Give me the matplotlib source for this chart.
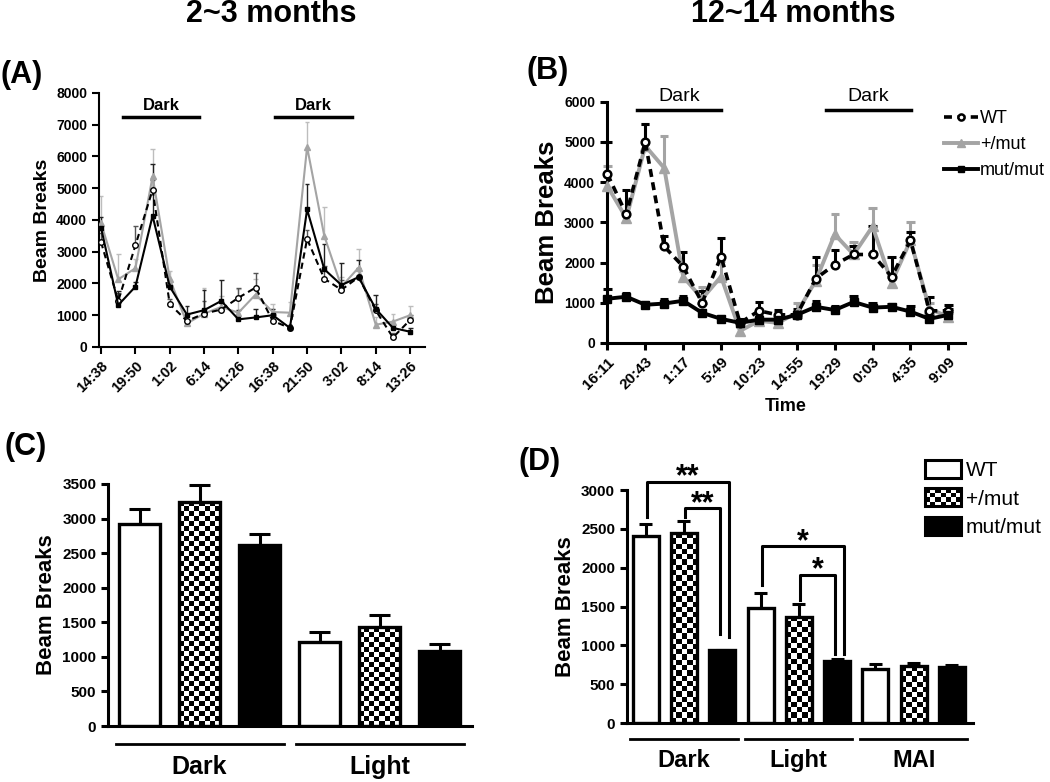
import numpy as np
import matplotlib
matplotlib.use("Agg")
import matplotlib.pyplot as plt
from matplotlib.lines import Line2D
from matplotlib.patches import Rectangle
from matplotlib.legend_handler import HandlerBase

plt.rcParams["font.family"] = ["Liberation Sans", "DejaVu Sans"]
plt.rcParams["font.weight"] = "bold"

GRAY = "#a4a4a4"
LGRAY = "#bdbdbd"

# ----------------- Panel A data (2~3 months) -----------------
a_ticks = ["14:38", "19:50", "1:02", "6:14", "11:26", "16:38", "21:50", "3:02", "8:14", "13:26"]
a_wt = [3300, 1450, 3200, 4950, 1350, 820, 1050, 1180, 1550, 1870, 820, 600, 3400, 2150, 1800, 2200, 1150, 300, 850]
a_het = [3900, 2130, 2480, 5370, 2150, 740, 1050, 1260, 1080, 1650, 1100, 1080, 6300, 3500, 1900, 2500, 700, 800, 1000]
a_mut = [3750, 1320, 1900, 4130, 1900, 1020, 1160, 1450, 870, 930, 1000, 600, 4330, 2450, 1950, 2200, 1200, 600, 480]
a_wt_err = [300, 250, 600, 300, 150, 150, 400, 250, 300, 450, 200, 100, 300, 400, 300, 300, 200, 150, 150]
a_het_err = [850, 800, 300, 880, 250, 200, 800, 350, 750, 500, 250, 350, 800, 900, 300, 600, 250, 250, 300]
a_mut_err = [350, 450, 150, 1620, 200, 280, 650, 650, 300, 270, 200, 100, 800, 800, 700, 550, 450, 100, 120]

# ----------------- Panel B data (12~14 months) -----------------
b_ticks = ["16:11", "20:43", "1:17", "5:49", "10:23", "14:55", "19:29", "0:03", "4:35", "9:09"]
b_wt = [4200, 3200, 5000, 2400, 1900, 1000, 2150, 500, 800, 700, 700, 1600, 1950, 2200, 2200, 1650, 2550, 800, 800]
b_het = [3900, 3100, 4900, 4350, 1650, 1100, 1650, 300, 550, 500, 750, 1550, 2700, 2200, 2900, 1500, 2550, 850, 650]
b_mut = [1100, 1150, 950, 980, 1050, 750, 600, 500, 580, 580, 700, 900, 820, 1020, 880, 900, 780, 600, 700]
b_wt_err = [800, 600, 450, 250, 350, 300, 450, 100, 230, 120, 150, 550, 350, 200, 700, 500, 200, 350, 150]
b_het_err = [500, 150, 550, 800, 150, 300, 400, 100, 100, 100, 250, 400, 500, 300, 450, 150, 470, 150, 100]
b_mut_err = [250, 100, 80, 120, 120, 80, 80, 80, 100, 100, 80, 150, 100, 150, 120, 80, 130, 100, 150]

# ----------------- Panel C / D data -----------------
groups = ["WT", "+/mut", "mut/mut"]
c_periods = ["Dark", "Light"]
c_means = [[2917, 3245, 2613], [1220, 1427, 1085]]
c_errs = [[217, 241, 164], [140, 178, 105]]

d_periods = ["Dark", "Light", "MAI"]
d_means = [[2406, 2441, 937], [1483, 1367, 799], [700, 730, 722]]
d_errs = [[155, 163, 8], [193, 159, 22], [65, 44, 26]]

# significance brackets in D: (bar i, bar j, top, left foot, right foot, label)
sig_i = [0, 1, 3, 4]
sig_j = [2, 2, 5, 5]
sig_top = [3107, 2763, 2278, 1912]
sig_left = [2656, 2656, 1775, 1581]
sig_right = [1110, 1150, 894, 894]
sig_lab = ["**", "**", "*", "*"]
sig_dx = [0.18, -0.05, 0.18, -0.05]

fig = plt.figure(figsize=(10.5, 7.82), dpi=100)


def up_err(ax, x, y, e, cap, color, lw, z=3):
    x = np.asarray(x, float)
    y = np.asarray(y, float)
    e = np.asarray(e, float)
    ax.vlines(x, y, y + e, color=color, lw=lw, zorder=z, clip_on=False)
    ax.hlines(y + e, x - cap, x + cap, color=color, lw=lw, zorder=z, clip_on=False)


def checker_fill(ax, x0, x1, y0, y1, cell=5.0):
    p0 = ax.transData.transform((x0, y0))
    p1 = ax.transData.transform((x1, y1))
    nx = max(1, int(round(abs(p1[0] - p0[0]) / cell)))
    ny = max(1, int(round(abs(p1[1] - p0[1]) / cell)))
    board = np.add.outer(np.arange(ny), np.arange(nx)) % 2
    ax.imshow(board, cmap="gray", extent=(x0, x1, y0, y1), aspect="auto",
              interpolation="nearest", origin="lower", zorder=1)


class CheckerKey:
    pass


class CheckerHandler(HandlerBase):
    def create_artists(self, legend, orig_handle, xd, yd, width, height, fontsize, trans):
        arts = [Rectangle((-xd, -yd), width, height, fc="white", ec="none", transform=trans)]
        nx, ny = 7, 4
        cw, ch = width / nx, height / ny
        for i in range(nx):
            for j in range(ny):
                if (i + j) % 2:
                    arts.append(Rectangle((-xd + i * cw, -yd + j * ch), cw, ch,
                                          fc="black", ec="none", transform=trans))
        arts.append(Rectangle((-xd, -yd), width, height, fc="none", ec="black",
                              lw=2.2, transform=trans))
        return arts


def style_axes(ax, lw):
    for s in ["top", "right"]:
        ax.spines[s].set_visible(False)
    for s in ["left", "bottom"]:
        ax.spines[s].set_linewidth(lw)
    ax.tick_params(width=lw, length=5, direction="out")


# ----------------- (A) -----------------
axA = fig.add_axes([0.0943, 0.5563, 0.3105, 0.3248])
style_axes(axA, 1.5)
xa = np.arange(len(a_wt))
up_err(axA, xa, a_het, a_het_err, 0.14, LGRAY, 1.0, 2)
up_err(axA, xa, a_wt, a_wt_err, 0.14, "#555555", 1.0, 2)
up_err(axA, xa, a_mut, a_mut_err, 0.14, "#222222", 1.0, 2)
axA.plot(xa, a_het, color=GRAY, lw=1.5, marker="^", ms=4, mfc=GRAY, mec=GRAY, zorder=4)
axA.plot(xa, a_wt, color="black", lw=1.5, ls=(0, (3, 2)), marker="o", ms=4, mfc="white", mec="black", zorder=5)
axA.plot(xa, a_mut, color="black", lw=1.5, marker="s", ms=3.5, zorder=6)
axA.set_xlim(-0.12, 18.87)
axA.set_ylim(0, 8000)
axA.set_yticks(np.arange(0, 8001, 1000))
axA.set_xticks(xa[::2])
axA.set_xticklabels(a_ticks, rotation=45, ha="right", rotation_mode="anchor", fontsize=10.5)
axA.tick_params(axis="y", labelsize=10)
axA.set_ylabel("Beam Breaks", fontsize=14, fontweight="bold", labelpad=4)
for x0, x1 in [(1.28, 5.71), (10.13, 14.62)]:
    axA.plot([x0, x1], [7244, 7244], color="black", lw=2.5, clip_on=False)
    axA.text((x0 + x1) / 2, 7600, "Dark", ha="center", va="center", fontsize=12)

# ----------------- (B) -----------------
axB = fig.add_axes([0.5781, 0.5614, 0.3410, 0.3086])
style_axes(axB, 2.2)
xb = np.arange(len(b_wt))
up_err(axB, xb, b_het, b_het_err, 0.22, GRAY, 2.2, 2)
up_err(axB, xb, b_wt, b_wt_err, 0.22, "black", 2.2, 2)
up_err(axB, xb, b_mut, b_mut_err, 0.22, "black", 2.2, 2)
kw_wt = dict(color="black", lw=2.6, ls=(0, (2.2, 1.5)), marker="o", ms=5.5, mfc="white", mec="black", mew=1.8)
kw_het = dict(color=GRAY, lw=2.8, marker="^", ms=7, mfc=GRAY, mec=GRAY)
kw_mut = dict(color="black", lw=2.8, marker="s", ms=6, mfc="black", mec="black")
axB.plot(xb, b_het, zorder=4, clip_on=False, **kw_het)
axB.plot(xb, b_wt, zorder=5, clip_on=False, **kw_wt)
axB.plot(xb, b_mut, zorder=6, clip_on=False, **kw_mut)
axB.set_xlim(-0.02, 18.88)
axB.set_ylim(0, 6000)
axB.set_yticks(np.arange(0, 6001, 1000))
axB.set_xticks(xb[::2])
axB.set_xticklabels(b_ticks, rotation=45, ha="right", rotation_mode="anchor", fontsize=11)
axB.tick_params(axis="y", labelsize=10)
axB.set_ylabel("Beam Breaks", fontsize=18.5, fontweight="bold", labelpad=4)
axB.set_xlabel("Time", fontsize=13, fontweight="bold", labelpad=4)
for x0, x1 in [(1.58, 6.01), (11.55, 16.03)]:
    axB.plot([x0, x1], [5794, 5794], color="black", lw=2.5, clip_on=False)
    axB.text((x0 + x1) / 2, 6130, "Dark", ha="center", va="center", fontsize=14, fontweight="normal")
legB = axB.legend(handles=[Line2D([], [], **kw_wt), Line2D([], [], **kw_het), Line2D([], [], **kw_mut)],
                  labels=["WT", "+/mut", "mut/mut"], loc="upper left",
                  bbox_to_anchor=(944 / 1050, 1 - 110 / 782), bbox_transform=fig.transFigure,
                  frameon=False, handlelength=1.9, handletextpad=0.1, labelspacing=0.5,
                  borderpad=0, borderaxespad=0, prop={"size": 13, "weight": "normal"},
                  markerscale=0.8)


# ----------------- bar helper -----------------
def bar_panel(ax, means, errs, periods, ylim, step, cell, cap, lab_fs, line_y, text_y, span):
    ax.set_xlim(*span)
    ax.set_ylim(0, ylim)
    pos = 0
    for g, (m, e) in enumerate(zip(means, errs)):
        xs = np.arange(pos, pos + 3)
        up_err(ax, xs, m, e, cap, "black", 2.2, 1)
        for k in range(3):
            x = xs[k]
            if k == 1:
                checker_fill(ax, x - 0.34, x + 0.34, 0, m[k], cell)
                ax.bar(x, m[k], 0.68, color="none", edgecolor="black", lw=2.4, zorder=2)
            else:
                ax.bar(x, m[k], 0.68, color="white" if k == 0 else "black",
                       edgecolor="black", lw=2.4, zorder=2)
        tr = ax.get_xaxis_transform()
        ax.plot([pos - 0.4, pos + 2.4], [line_y, line_y], color="black", lw=2.0,
                transform=tr, clip_on=False)
        ax.text(pos + 1, text_y, periods[g], transform=tr, ha="center", va="center",
                fontsize=lab_fs)
        pos += 3
    ax.set_xlim(*span)
    ax.set_ylim(0, ylim)
    ax.set_yticks(np.arange(0, ylim + 1, step))
    ax.set_xticks([])
    ax.tick_params(axis="y", labelsize=11)
    ax.set_ylabel("Beam Breaks", fontsize=16, fontweight="bold", labelpad=4)


# ----------------- (C) -----------------
axC = fig.add_axes([0.1029, 0.0716, 0.3467, 0.3095])
style_axes(axC, 2.2)
bar_panel(axC, c_means, c_errs, c_periods, 3500, 500, 5.0, 0.17, 18, -0.074, -0.17, (-0.525, 5.54))

# ----------------- (D) -----------------
axD = fig.add_axes([0.5971, 0.0754, 0.3295, 0.2980])
style_axes(axD, 2.2)
bar_panel(axD, d_means, d_errs, d_periods, 3000, 500, 5.2, 0.17, 17, -0.069, -0.16, (-0.49, 8.55))
for i, j, top, lf, rf, lab, dx in zip(sig_i, sig_j, sig_top, sig_left, sig_right, sig_lab, sig_dx):
    xl, xr = i + 0.03, j + dx
    axD.plot([xl, xl, xr, xr], [lf, top, top, rf], color="black", lw=2.2, clip_on=False, zorder=5)
    axD.annotate(lab, ((xl + xr) / 2, top), xytext=(0, 3), textcoords="offset points",
                 ha="center", va="center", fontsize=22, annotation_clip=False)
legD = axD.legend(handles=[Rectangle((0, 0), 1, 1, fc="white", ec="black", lw=2.2), CheckerKey(),
                           Rectangle((0, 0), 1, 1, fc="black", ec="black", lw=2.2)],
                  labels=groups, handler_map={CheckerKey: CheckerHandler()}, loc="upper left",
                  bbox_to_anchor=(925 / 1050, 1 - 460 / 782), bbox_transform=fig.transFigure,
                  frameon=False, handlelength=1.75, handleheight=0.95, handletextpad=0.2,
                  labelspacing=0.4, borderpad=0, borderaxespad=0,
                  prop={"size": 15, "weight": "normal"})

# ----------------- titles & panel letters -----------------
fig.text(271 / 1050, 1 - 14 / 782, "2~3 months", ha="center", va="center", fontsize=22)
fig.text(793 / 1050, 1 - 14 / 782, "12~14 months", ha="center", va="center", fontsize=22)
for lab, x, y in [("(A)", 0, 75), ("(B)", 527, 71), ("(C)", 4, 447), ("(D)", 519, 462)]:
    fig.text(x / 1050, 1 - y / 782, lab, ha="left", va="center", fontsize=22)

fig.savefig("out.png", dpi=100)
